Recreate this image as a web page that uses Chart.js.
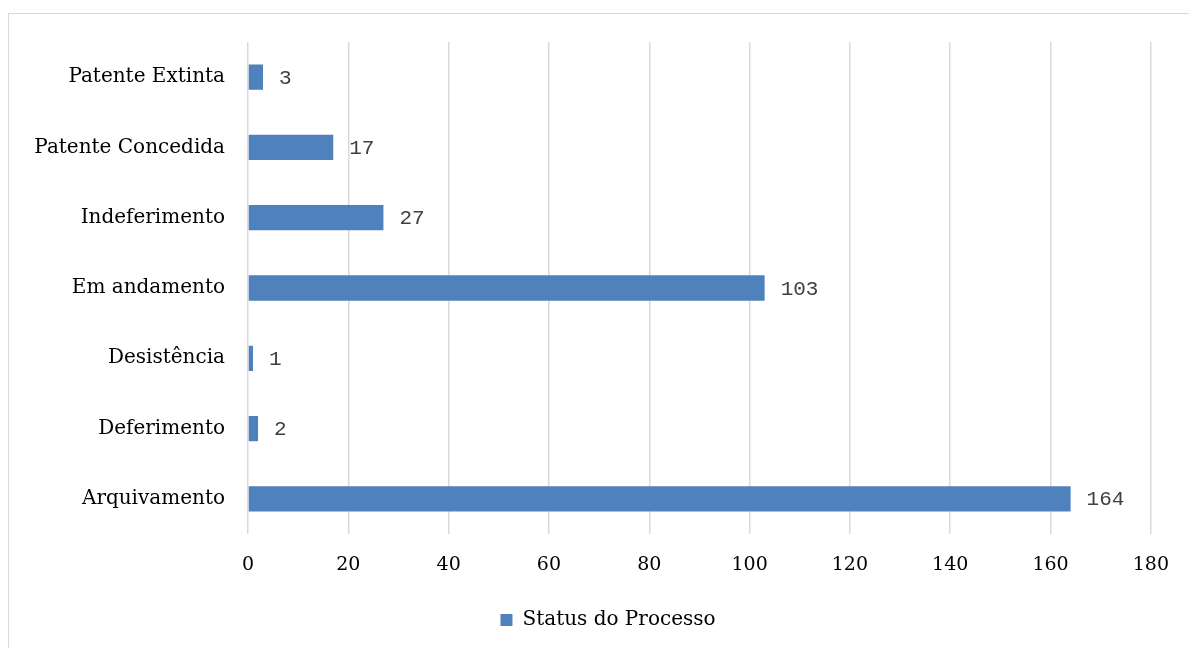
<!DOCTYPE html>
<html>
<head>
<meta charset="utf-8">
<script src="https://cdn.jsdelivr.net/npm/chart.js@4"></script>
<style>
  html, body { margin: 0; padding: 0; background: #ffffff; }
  body { width: 1189px; height: 648px; position: relative; overflow: hidden; }
  .moldura { position: absolute; left: 8px; top: 13px; width: 1200px; height: 700px; border: 1px solid #d9d9d9; box-sizing: border-box; }
  #grafico { position: absolute; left: 0; top: 0; }
</style>
</head>
<body>
<div class="moldura"></div>
<canvas id="grafico" width="1189" height="648"></canvas>
<script>
const categorias = [
  "Patente Extinta",
  "Patente Concedida",
  "Indeferimento",
  "Em andamento",
  "Desistência",
  "Deferimento",
  "Arquivamento",
];
const valores = [3, 17, 27, 103, 1, 2, 164];
const nomeSerie = "Status do Processo";
const eixoMin = 0;
const eixoMax = 180;
const passoEixo = 20;

const corBarra = "#4f81bd";
const fonteSerif = "'DejaVu Serif', 'Liberation Serif', serif";
const fonteMono = "'Liberation Mono', 'Courier New', monospace";

const pluginRotulos = {
  id: "pluginRotulos",
  afterDatasetsDraw(chart) {
    const { ctx } = chart;
    const meta = chart.getDatasetMeta(0);
    const dataset = chart.data.datasets[0];

    ctx.save();
    ctx.font = "21px " + fonteMono;
    ctx.fillStyle = "#404040";
    ctx.textAlign = "left";
    ctx.textBaseline = "middle";

    meta.data.forEach((barra, index) => {
      ctx.fillText(String(dataset.data[index]), barra.x + 16, barra.y + 1);
    });

    ctx.restore();
  },
};

// empurra a legenda um pouco para a direita, como no original
const pluginLegenda = {
  id: "pluginLegenda",
  afterLayout(chart) {
    if (!chart.legend) return;
    chart.legend.left += 28;
    chart.legend.right += 28;
  },
};

const canvas = document.getElementById("grafico");

new Chart(canvas.getContext("2d"), {
  type: "bar",
  data: {
    labels: categorias,
    datasets: [
      {
        label: nomeSerie,
        data: valores,
        backgroundColor: corBarra,
        borderColor: corBarra,
        borderWidth: 0,
        categoryPercentage: 1,
        barPercentage: 0.36,
      },
    ],
  },
  options: {
    indexAxis: "y",
    responsive: false,
    animation: false,
    layout: {
      padding: { left: 8, right: 37, top: 42, bottom: 8 },
    },
    scales: {
      x: {
        min: eixoMin,
        max: eixoMax,
        ticks: {
          stepSize: passoEixo,
          color: "#000000",
          padding: 20,
          font: { family: fonteSerif, size: 19 },
        },
        grid: { color: "#d9d9d9", lineWidth: 1.5, drawTicks: false },
        border: { display: false },
        afterFit: (escala) => { escala.height = 62; },
      },
      y: {
        ticks: {
          color: "#000000",
          padding: 23,
          font: { family: fonteSerif, size: 20 },
        },
        grid: { display: false, drawTicks: false },
        border: { display: false },
        afterFit: (escala) => { escala.width = 240; },
      },
    },
    plugins: {
      legend: {
        position: "bottom",
        labels: {
          color: "#000000",
          boxWidth: 12,
          boxHeight: 12,
          padding: 14,
          font: { family: fonteSerif, size: 20 },
        },
      },
      tooltip: { enabled: false },
    },
  },
  plugins: [pluginRotulos, pluginLegenda],
});
</script>
</body>
</html>
